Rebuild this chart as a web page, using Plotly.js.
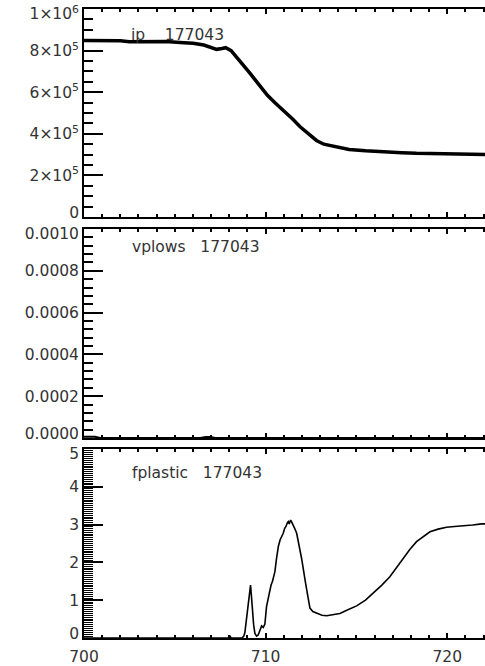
<!DOCTYPE html>
<html><head><meta charset="utf-8">
<script src="https://cdn.plot.ly/plotly-3.0.1.min.js"></script>
<style>html,body{margin:0;padding:0;background:#fff;overflow:hidden}</style>
</head><body><div id="chart" style="width:485px;height:666px"></div>
<script>
const shot = "177043";
const panelNames = ["ip", "vplows", "fplastic"];

const ipX = [700, 701, 702, 702.5, 703, 703.6, 704.5, 705.5, 706.0, 706.6, 707.0, 707.3, 707.6, 707.8, 708.1, 708.5, 709.1, 709.6, 710.1, 710.5, 711.0, 711.5, 711.9, 712.4, 712.8, 713.2, 713.7, 714.6, 715.5, 716.5, 717.5, 718.3, 719.2, 720.2, 721.0, 722.1];
const ipY = [8.48e5, 8.48e5, 8.47e5, 8.43e5, 8.43e5, 8.46e5, 8.44e5, 8.38e5, 8.35e5, 8.27e5, 8.14e5, 8.06e5, 8.10e5, 8.14e5, 8.00e5, 7.60e5, 6.95e5, 6.40e5, 5.85e5, 5.50e5, 5.12e5, 4.70e5, 4.34e5, 3.95e5, 3.68e5, 3.50e5, 3.41e5, 3.25e5, 3.18e5, 3.12e5, 3.09e5, 3.06e5, 3.04e5, 3.01e5, 3.01e5, 3.00e5];

const vpX = [700, 700.6, 700.9, 706.4, 706.7, 707.0, 707.2, 722.1];
const vpY = [6e-6, 6e-6, 0, 0, 5e-6, 5e-6, 0, 0];

const fpX = [700, 708.0, 708.05, 708.1, 708.7, 708.8, 708.86, 708.95, 709.04, 709.1, 709.17, 709.22, 709.27, 709.34, 709.41, 709.5, 709.59, 709.68, 709.78, 709.87, 709.96, 710.05, 710.15, 710.24, 710.3, 710.38, 710.45, 710.51, 710.6, 710.7, 710.8, 710.9, 710.97, 711.05, 711.12, 711.2, 711.25, 711.3, 711.38, 711.45, 711.52, 711.6, 711.71, 711.85, 711.98, 712.2, 712.44, 712.6, 712.81, 713.1, 713.36, 713.7, 714.09, 714.5, 715.01, 715.5, 715.93, 716.4, 716.84, 717.2, 717.58, 717.95, 718.31, 718.7, 719.05, 719.5, 719.96, 720.4, 720.88, 721.4, 721.89, 722.1];
const fpY = [0, 0, 0.04, 0, 0, 0.05, 0.15, 0.55, 1.0, 1.25, 1.40, 1.1, 0.74, 0.35, 0.12, 0.05, 0.08, 0.2, 0.32, 0.28, 0.37, 0.83, 1.1, 1.27, 1.4, 1.5, 1.62, 1.75, 2.1, 2.42, 2.6, 2.7, 2.77, 2.9, 2.95, 3.05, 3.08, 3.02, 3.12, 3.05, 2.99, 2.9, 2.77, 2.45, 2.11, 1.45, 0.79, 0.7, 0.65, 0.6, 0.59, 0.61, 0.65, 0.74, 0.85, 1.0, 1.18, 1.4, 1.62, 1.86, 2.11, 2.35, 2.55, 2.7, 2.81, 2.88, 2.93, 2.95, 2.96, 2.99, 3.02, 3.02];

// tick values and labels
const ipTickVals = [0, 2e5, 4e5, 6e5, 8e5, 1e6];
const ipTickText = ["0", "2×10<sup>5</sup>", "4×10<sup>5</sup>", "6×10<sup>5</sup>", "8×10<sup>5</sup>", "1×10<sup>6</sup>"];
const vpTickVals = [0, 0.0002, 0.0004, 0.0006, 0.0008, 0.0010];
const vpTickText = ["0.0000", "0.0002", "0.0004", "0.0006", "0.0008", "0.0010"];
const fpTickVals = [0, 1, 2, 3, 4, 5];
const fpTickText = ["0", "1", "2", "3", "4", "5"];
const xTickVals = [700, 710, 720];

// IDL keeps the end labels inside the axis span: small inward nudge (pixels)
const LABEL_NUDGE_TOP = 5, LABEL_NUDGE_BOTTOM = 4;

const FONT = {family: "DejaVu Sans, sans-serif", size: 15.5, color: "#333"};
const gap = n => "\u00A0".repeat(n);

const xBase = (anchor, showLabels) => ({
  range: [700, 722.08], anchor: anchor, showgrid: false, zeroline: false,
  showline: true, linecolor: "#000", linewidth: 2, mirror: "ticks",
  ticks: "inside", ticklen: 5, tickwidth: 2, tickcolor: "#000",
  tickvals: xTickVals, showticklabels: showLabels, tickfont: FONT,
  ticklabelstandoff: 3, ticklabeloverflow: "allow",
  minor: {dtick: 1, tick0: 700, ticks: "inside", ticklen: 3, tickwidth: 2, tickcolor: "#000"},
  automargin: false, fixedrange: true
});
const yBase = (anchor, domain, range, vals, minorStep, minorWidth) => ({
  anchor: anchor, domain: domain, range: range, showgrid: false, zeroline: false,
  showline: true, linecolor: "#000", linewidth: 2, mirror: false,
  ticks: "inside", ticklen: 19, tickwidth: 2, tickcolor: "#000",
  tickvals: vals, showticklabels: false, automargin: false, fixedrange: true,
  minor: {dtick: minorStep, tick0: 0, ticks: "inside", ticklen: 9, tickwidth: minorWidth, tickcolor: "#000"}
});
// label-only overlay axis
const yLabels = (over, anchor, range, domainPx, vals, text) => {
  const per = (range[1] - range[0]) / domainPx;
  const v = vals.map((t, i) => i === vals.length - 1 ? t - LABEL_NUDGE_TOP * per
                               : (i === 0 ? t + LABEL_NUDGE_BOTTOM * per : t));
  return {overlaying: over, anchor: anchor, side: "left", range: range,
    showgrid: false, zeroline: false, showline: false, ticks: "",
    tickvals: v, ticktext: text, tickfont: FONT, ticklabeloverflow: "allow",
    ticklabelstandoff: 4, automargin: false, fixedrange: true};
};

const traces = [
  {x: ipX, y: ipY, xaxis: "x", yaxis: "y", mode: "lines", line: {color: "#000", width: 3.5}},
  {x: vpX, y: vpY, xaxis: "x2", yaxis: "y2", mode: "lines", line: {color: "#000", width: 2}},
  {x: fpX, y: fpY, xaxis: "x3", yaxis: "y3", mode: "lines", line: {color: "#000", width: 1.6}},
  // empty traces only register the label overlay axes
  {x: [], y: [], xaxis: "x", yaxis: "y4", mode: "lines", hoverinfo: "skip"},
  {x: [], y: [], xaxis: "x2", yaxis: "y5", mode: "lines", hoverinfo: "skip"},
  {x: [], y: [], xaxis: "x3", yaxis: "y6", mode: "lines", hoverinfo: "skip"}
];

const ann = (txt, x, y) => ({text: txt, xref: "paper", yref: "paper", x: x, y: y,
  xanchor: "left", yanchor: "middle", showarrow: false, font: FONT});

const layout = {
  width: 485, height: 666, margin: {l: 84, r: 0, t: 0, b: 28},
  paper_bgcolor: "#fff", plot_bgcolor: "#fff", showlegend: false,
  xaxis: xBase("y", false), xaxis2: xBase("y2", false), xaxis3: xBase("y3", true),
  yaxis: yBase("x", [0.65987, 0.98589], [0, 1e6], ipTickVals, 5e4, 2),
  yaxis2: yBase("x2", [0.31348, 0.64107], [0, 0.001], vpTickVals, 0.00004, 2),
  yaxis3: yBase("x3", [0, 0.29624], [0, 5], fpTickVals, 0.05, 1),
  yaxis4: yLabels("y", "x", [0, 1e6], 208, ipTickVals, ipTickText),
  yaxis5: yLabels("y2", "x2", [0, 0.001], 209, vpTickVals, vpTickText),
  yaxis6: yLabels("y3", "x3", [0, 5], 189, fpTickVals, fpTickText),
  annotations: [
    ann(panelNames[0] + gap(4) + shot, 0.112, 0.945),
    ann(panelNames[1] + gap(3) + shot, 0.114, 0.613),
    ann(panelNames[2] + gap(3) + shot, 0.114, 0.259)
  ]
};

Plotly.newPlot("chart", traces, layout, {staticPlot: true, displayModeBar: false});
</script></body></html>
